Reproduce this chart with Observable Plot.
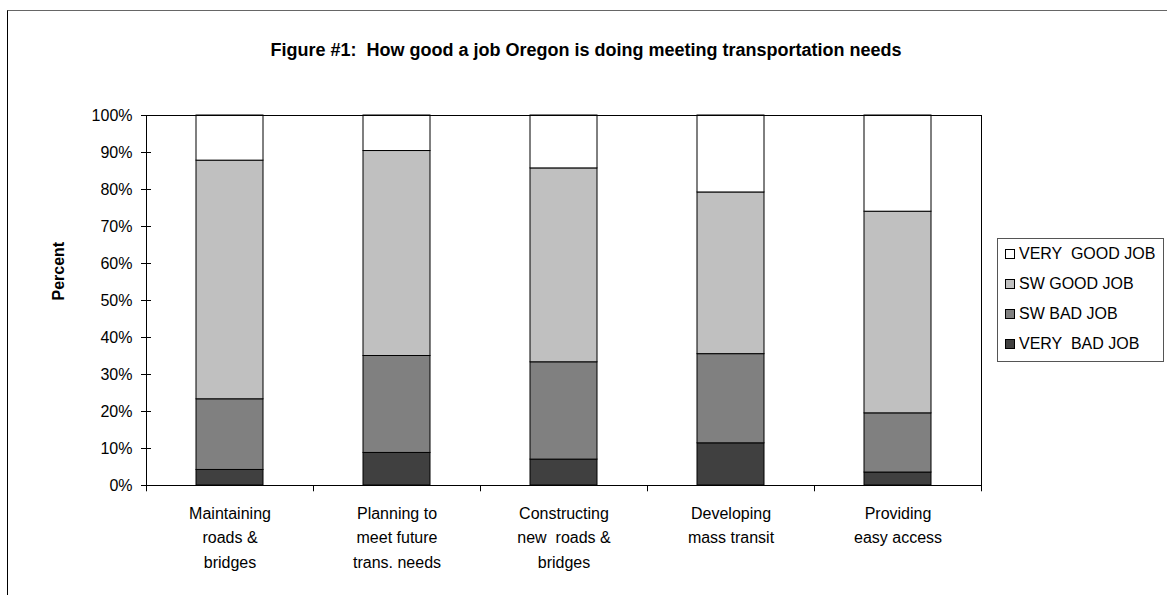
<!DOCTYPE html>
<html>
<head>
<meta charset="utf-8">
<script src="https://cdn.jsdelivr.net/npm/d3@7"></script>
<script src="https://cdn.jsdelivr.net/npm/@observablehq/plot@0.6"></script>
<style>
  html, body { margin: 0; padding: 0; background: #fff; }
  body { font-family: "Liberation Sans", Arial, sans-serif; }
  #chart { position: relative; width: 1167px; height: 595px; overflow: hidden; }
  /* chart-area border: its right and bottom edges lie past the page */
  #border { position: absolute; left: 7px; top: 10px; width: 1200px; height: 700px;
            border-left: 1px solid #000; border-top: 1px solid #666; }
  #title { position: absolute; left: 7px; width: 1158px; top: 40px; text-align: center;
           font-weight: bold; font-size: 18px; color: #000; white-space: pre; }
  #plot { position: absolute; left: 0; top: 0; }
  #legend { position: absolute; left: 997px; top: 238px; width: 167px; height: 124px;
            border: 1px solid #555; box-sizing: border-box; background: #fff; }
  .item { display: flex; align-items: center; height: 30px; font-size: 16px; color: #000;
          white-space: pre; }
  .sw { width: 10px; height: 10px; border: 1px solid #000; margin-left: 7px; margin-right: 4px;
        box-sizing: border-box; flex: none; }
</style>
</head>
<body>
<div id="chart">
  <div id="border"></div>
  <div id="title">Figure #1:  How good a job Oregon is doing meeting transportation needs</div>
  <div id="plot"></div>
  <div id="legend"></div>
</div>
<script>
// Survey categories (axis labels, with line breaks as printed)
const categories = [
  "Maintaining\nroads &\nbridges",
  "Planning to\nmeet future\ntrans. needs",
  "Constructing\nnew  roads &\nbridges",
  "Developing\nmass transit",
  "Providing\neasy access"
];

// Response levels, bottom of the stack first
const responses = ["VERY  BAD JOB", "SW BAD JOB", "SW GOOD JOB", "VERY  GOOD JOB"];
const responseColors = ["#404040", "#808080", "#c0c0c0", "#ffffff"];

// Percent of respondents per category
const veryBad  = [4.2, 8.8, 7.0, 11.4, 3.5];
const swBad    = [19.1, 26.2, 26.3, 24.1, 16.0];
const swGood   = [64.5, 55.4, 52.4, 43.7, 54.5];
const veryGood = [12.2, 9.6, 14.3, 20.8, 26.0];

const yTicks = [0, 10, 20, 30, 40, 50, 60, 70, 80, 90, 100];

const series = [veryBad, swBad, swGood, veryGood];
const rows = [];
categories.forEach((c, i) => {
  responses.forEach((r, j) => rows.push({category: c, response: r, value: series[j][i]}));
});

const W = 1167, H = 595;
const mLeft = 146, mRight = 186, mTop = 115, mBottom = 110;
const step = (W - mLeft - mRight) / categories.length;

const chart = Plot.plot({
  width: W,
  height: H,
  marginLeft: mLeft,
  marginRight: mRight,
  marginTop: mTop,
  marginBottom: mBottom,
  style: {fontFamily: "'Liberation Sans', Arial, sans-serif", color: "#000", background: "transparent"},
  x: {domain: categories, paddingInner: 0.6, paddingOuter: 0.3, label: null},
  y: {domain: [0, 100], label: null},
  color: {domain: responses, range: responseColors},
  marks: [
    Plot.barY(rows, {
      x: "category", y: "value", fill: "response",
      order: responses, stroke: "#000", strokeWidth: 1
    }),
    Plot.frame({stroke: "#000", strokeWidth: 1}),
    // category boundary ticks below the baseline
    Plot.ruleX(categories, {x: d => d, dx: -step / 2, y1: 0, y2: -1.7, stroke: "#000"}),
    Plot.ruleX(categories.slice(-1), {x: d => d, dx: step / 2, y1: 0, y2: -1.7, stroke: "#000"}),
    Plot.axisX({
      tickSize: 0, tickPadding: 16, fontSize: 16, lineHeight: 1.53,
      textAnchor: "middle", label: null
    }),
    Plot.axisY({
      ticks: yTicks, tickFormat: d => d + "%", tickSize: 10, dx: 5,
      tickPadding: 9, fontSize: 16, label: null
    }),
    Plot.text(["Percent"], {
      frameAnchor: "left", dx: -88, rotate: -90, text: d => d,
      fontWeight: "bold", fontSize: 16
    })
  ]
});
document.getElementById("plot").appendChild(chart);

// Legend, top entry first
const legend = d3.select("#legend");
responses.slice().reverse().forEach((r) => {
  const item = legend.append("div").attr("class", "item");
  item.append("div").attr("class", "sw")
    .style("background", responseColors[responses.indexOf(r)]);
  item.append("span").text(r);
});
</script>
</body>
</html>
